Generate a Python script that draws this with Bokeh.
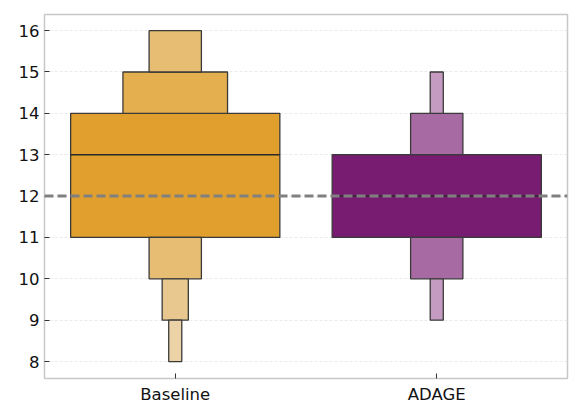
from bokeh.plotting import figure
from bokeh.models import FixedTicker, Span, ColumnDataSource
from bokeh.embed import file_html
from bokeh.resources import INLINE

categories = ["Baseline", "ADAGE"]
# letter-value boxes: bottom, top, depth level
baseline_bottom = [11, 14, 15, 10, 9, 8]
baseline_top = [14, 15, 16, 11, 10, 9]
baseline_level = [0, 1, 2, 2, 3, 4]
adage_bottom = [11, 13, 14, 10, 9]
adage_top = [13, 14, 15, 11, 10]
adage_level = [0, 2, 4, 2, 4]
medians = [13, 12]
reference_value = 12
y_ticks = [8, 9, 10, 11, 12, 13, 14, 15, 16]

palette = {
    "Baseline": ["#E1A02D", "#E3AF4F", "#E6BD72", "#E8C88E", "#EBD3A7"],
    "ADAGE": ["#781C72", "#90438A", "#A86AA3", "#B883B3", "#C59BC2"],
}

p = figure(width=575, height=410, output_backend="svg", toolbar_location=None,
           x_range=(-0.5, 1.5), y_range=(7.59, 16.39),
           min_border_left=44, min_border_right=8, min_border_top=14, min_border_bottom=32)

groups = [(baseline_bottom, baseline_top, baseline_level),
          (adage_bottom, adage_top, adage_level)]
for i, (cat, (b, t, lv)) in enumerate(zip(categories, groups)):
    src = ColumnDataSource(dict(
        x=[i] * len(b), bottom=b, top=t,
        w=[0.8 / (2 ** l) for l in lv],
        c=[palette[cat][l] for l in lv]))
    p.vbar(x="x", width="w", bottom="bottom", top="top", fill_color="c",
           line_color="#3a3a3a", line_width=1.3, source=src)
    p.segment(x0=[i - 0.4], x1=[i + 0.4], y0=[medians[i]], y1=[medians[i]],
              line_color="#2a2a2a", line_width=1.5)

p.add_layout(Span(location=reference_value, dimension="width", line_color="#808080",
                  line_width=3, line_dash="9 4"))

p.xaxis.ticker = FixedTicker(ticks=[0, 1])
p.xaxis.major_label_overrides = {0: categories[0], 1: categories[1]}
p.yaxis.ticker = FixedTicker(ticks=y_ticks)

for ax in (p.xaxis, p.yaxis):
    ax.axis_line_color = None
    ax.major_tick_in = 5
    ax.major_tick_out = 0
    ax.minor_tick_line_color = None
    ax.major_tick_line_color = "#333333"
    ax.major_label_text_font = "DejaVu Sans"
    ax.major_label_text_font_size = "16.5px"
    ax.major_label_text_color = "#111111"
p.xaxis.major_label_standoff = 6
p.yaxis.major_label_standoff = 5

p.xgrid.grid_line_color = None
p.ygrid.grid_line_color = "#e4e4e4"
p.ygrid.grid_line_dash = "3 2"
p.ygrid.grid_line_width = 0.8

p.outline_line_color = "#c8c8c8"
p.outline_line_width = 1.5
p.background_fill_color = "white"
p.border_fill_color = "white"

open("out.html", "w").write(file_html(p, INLINE))
